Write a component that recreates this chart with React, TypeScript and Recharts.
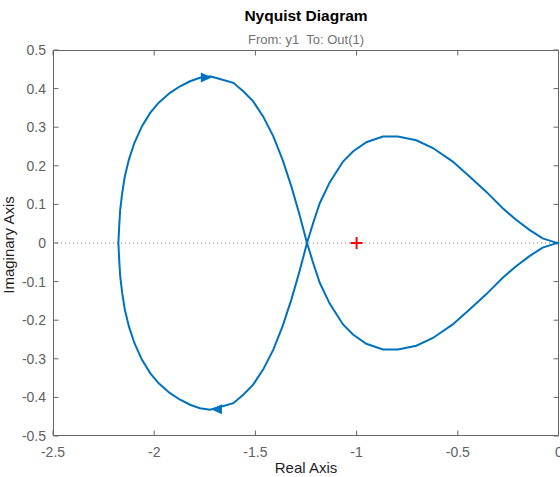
import * as R from "recharts"
import { ComposedChart, Scatter, XAxis, YAxis, ReferenceLine, Customized } from "recharts"

// axis ticks
const reTicks = [-2.5, -2, -1.5, -1, -0.5, 0]
const imTicks = [-0.5, -0.4, -0.3, -0.2, -0.1, 0, 0.1, 0.2, 0.3, 0.4, 0.5]

const leftLoopUpper: [number, number][] = [
  [-2.177, 0], [-2.173, 0.043], [-2.168, 0.086], [-2.158, 0.13], [-2.145, 0.173],
  [-2.125, 0.216], [-2.098, 0.259], [-2.061, 0.302], [-2.02, 0.337], [-1.979, 0.363],
  [-1.922, 0.389], [-1.872, 0.406], [-1.823, 0.419], [-1.774, 0.428], [-1.724, 0.432],
  [-1.675, 0.425], [-1.609, 0.415], [-1.56, 0.393], [-1.511, 0.367], [-1.462, 0.328],
  [-1.412, 0.277], [-1.366, 0.216], [-1.322, 0.146], [-1.284, 0.077], [-1.245, 0],
]
const leftLoopLower: [number, number][] = [
  [-2.177, 0], [-2.173, -0.043], [-2.168, -0.086], [-2.158, -0.13], [-2.145, -0.173],
  [-2.125, -0.216], [-2.098, -0.259], [-2.061, -0.302], [-2.02, -0.337], [-1.979, -0.363],
  [-1.922, -0.389], [-1.872, -0.406], [-1.823, -0.419], [-1.774, -0.428], [-1.724, -0.432],
  [-1.675, -0.425], [-1.609, -0.415], [-1.56, -0.393], [-1.511, -0.367], [-1.462, -0.328],
  [-1.412, -0.277], [-1.366, -0.216], [-1.322, -0.146], [-1.284, -0.077], [-1.245, 0],
]
const rightLoopUpper: [number, number][] = [
  [-1.245, 0], [-1.215, 0.051], [-1.182, 0.103], [-1.133, 0.157], [-1.067, 0.211],
  [-1.018, 0.237], [-0.952, 0.261], [-0.87, 0.276], [-0.796, 0.276], [-0.705, 0.266],
  [-0.623, 0.246], [-0.525, 0.211], [-0.442, 0.172], [-0.36, 0.133], [-0.278, 0.09],
  [-0.212, 0.06], [-0.146, 0.034], [-0.081, 0.012], [-0.015, 0.001], [0, 0],
]
const rightLoopLower: [number, number][] = [
  [-1.245, 0], [-1.215, -0.051], [-1.182, -0.103], [-1.133, -0.157], [-1.067, -0.211],
  [-1.018, -0.237], [-0.952, -0.261], [-0.87, -0.276], [-0.796, -0.276], [-0.705, -0.266],
  [-0.623, -0.246], [-0.525, -0.211], [-0.442, -0.172], [-0.36, -0.133], [-0.278, -0.09],
  [-0.212, -0.06], [-0.146, -0.034], [-0.081, -0.012], [-0.015, -0.001], [0, 0],
]

// direction arrows (dir 1 = pointing right) and the -1 point
const arrows = [
  { re: -1.745, im: 0.429, dir: 1 },
  { re: -1.69, im: -0.431, dir: -1 },
]
const criticalPoint = [{ re: -1, im: 0 }]

const toPoints = (pts: [number, number][]) => pts.map(([re, im]) => ({ re, im }))
const branchPos = toPoints([...leftLoopUpper, ...rightLoopLower.slice(1)])
const branchNeg = toPoints([...leftLoopLower, ...rightLoopUpper.slice(1)])

const RE_MIN = -2.5
const RE_MAX = 0
const IM_MIN = -0.5
const IM_MAX = 0.5

const BLUE = "#0072BD"
const AXIS = "#666666"
const TICK_TEXT = "#616161"

const NoDot = () => <g />

function Arrow(props: any) {
  const { cx, cy, payload } = props
  const d = payload.dir
  const pts = `${cx + 6 * d},${cy} ${cx - 5 * d},${cy - 5} ${cx - 5 * d},${cy + 5}`
  return <polygon points={pts} fill={BLUE} />
}

function Plus(props: any) {
  const { cx, cy } = props
  return (
    <g stroke="#ff0000" strokeWidth={2}>
      <line x1={cx - 6} y1={cy} x2={cx + 6} y2={cy} />
      <line x1={cx} y1={cy - 6} x2={cx} y2={cy + 6} />
    </g>
  )
}

const usePlot: () => any = (R as any).usePlotArea ?? (() => null)

// box round the plot area with inward ticks on all four sides
function Frame() {
  const pa = usePlot()
  const x0 = pa?.x ?? 53
  const y0 = pa?.y ?? 50
  const w = pa?.width ?? 506
  const h = pa?.height ?? 386
  const sx = (v: number) => x0 + ((v - RE_MIN) / (RE_MAX - RE_MIN)) * w
  const sy = (v: number) => y0 + ((IM_MAX - v) / (IM_MAX - IM_MIN)) * h
  const L = 5
  const left = x0 + 0.5
  const right = Math.min(x0 + w, 559) - 0.5
  const top = y0 + 0.5
  const bottom = y0 + h - 0.5
  return (
    <g stroke={AXIS} strokeWidth={1} fill="none">
      <path d={`M${left},${top} H${right} V${bottom} H${left} Z`} />
      {reTicks.map((t) => (
        <g key={`x${t}`}>
          <line x1={Math.min(sx(t), right)} y1={bottom} x2={Math.min(sx(t), right)} y2={bottom - L} />
          <line x1={Math.min(sx(t), right)} y1={top} x2={Math.min(sx(t), right)} y2={top + L} />
        </g>
      ))}
      {imTicks.map((t) => (
        <g key={`y${t}`}>
          <line x1={left} y1={sy(t)} x2={left + L} y2={sy(t)} />
          <line x1={right} y1={sy(t)} x2={right - L} y2={sy(t)} />
        </g>
      ))}
    </g>
  )
}

function Titles() {
  return (
    <g>
      <text x={306} y={21} textAnchor="middle" fontWeight="bold" fontSize={15.5} fill="#000">
        Nyquist Diagram
      </text>
      <text x={306} y={43.5} textAnchor="middle" fontSize={13} fill="#737373" style={{ whiteSpace: "pre" }}>
        {"From: y1  To: Out(1)"}
      </text>
      <text x={306} y={473} textAnchor="middle" fontSize={15} fill="#1f1f1f">
        Real Axis
      </text>
      <text transform="translate(14,245) rotate(-90)" textAnchor="middle" fontSize={15} fill="#1f1f1f">
        Imaginary Axis
      </text>
    </g>
  )
}

export default function App() {
  const tickStyle = { fill: TICK_TEXT, fontSize: 14 }
  return (
    <div
      style={{
        position: "absolute",
        left: 0,
        top: 0,
        width: 560,
        height: 477,
        background: "#fff",
        fontFamily: '"Liberation Sans", Arial, sans-serif',
      }}
    >
      <ComposedChart width={560} height={477} margin={{ top: 50, right: 1, bottom: 0, left: 0 }}>
        <XAxis
          type="number"
          dataKey="re"
          domain={[RE_MIN, RE_MAX]}
          ticks={reTicks}
          interval={0}
          allowDataOverflow
          height={41}
          tick={tickStyle}
          tickLine={false}
          axisLine={false}
          tickSize={0}
          tickMargin={11}
          tickFormatter={(v: number) => String(v)}
        />
        <YAxis
          type="number"
          dataKey="im"
          domain={[IM_MIN, IM_MAX]}
          ticks={imTicks}
          interval={0}
          allowDataOverflow
          width={53}
          tick={tickStyle}
          tickLine={false}
          axisLine={false}
          tickSize={0}
          tickMargin={7}
          tickFormatter={(v: number) => String(v)}
        />
        <ReferenceLine y={0} stroke="#7a7a7a" strokeDasharray="1 3" strokeWidth={1} />
        <Scatter
          data={branchPos}
          line={{ stroke: BLUE, strokeWidth: 2 }}
          lineJointType="linear"
          shape={NoDot}
          isAnimationActive={false}
        />
        <Scatter
          data={branchNeg}
          line={{ stroke: BLUE, strokeWidth: 2 }}
          lineJointType="linear"
          shape={NoDot}
          isAnimationActive={false}
        />
        <Scatter data={arrows} shape={Arrow} isAnimationActive={false} />
        <Scatter data={criticalPoint} shape={Plus} isAnimationActive={false} />
        <Customized component={Frame} />
        <Customized component={Titles} />
      </ComposedChart>
    </div>
  )
}
